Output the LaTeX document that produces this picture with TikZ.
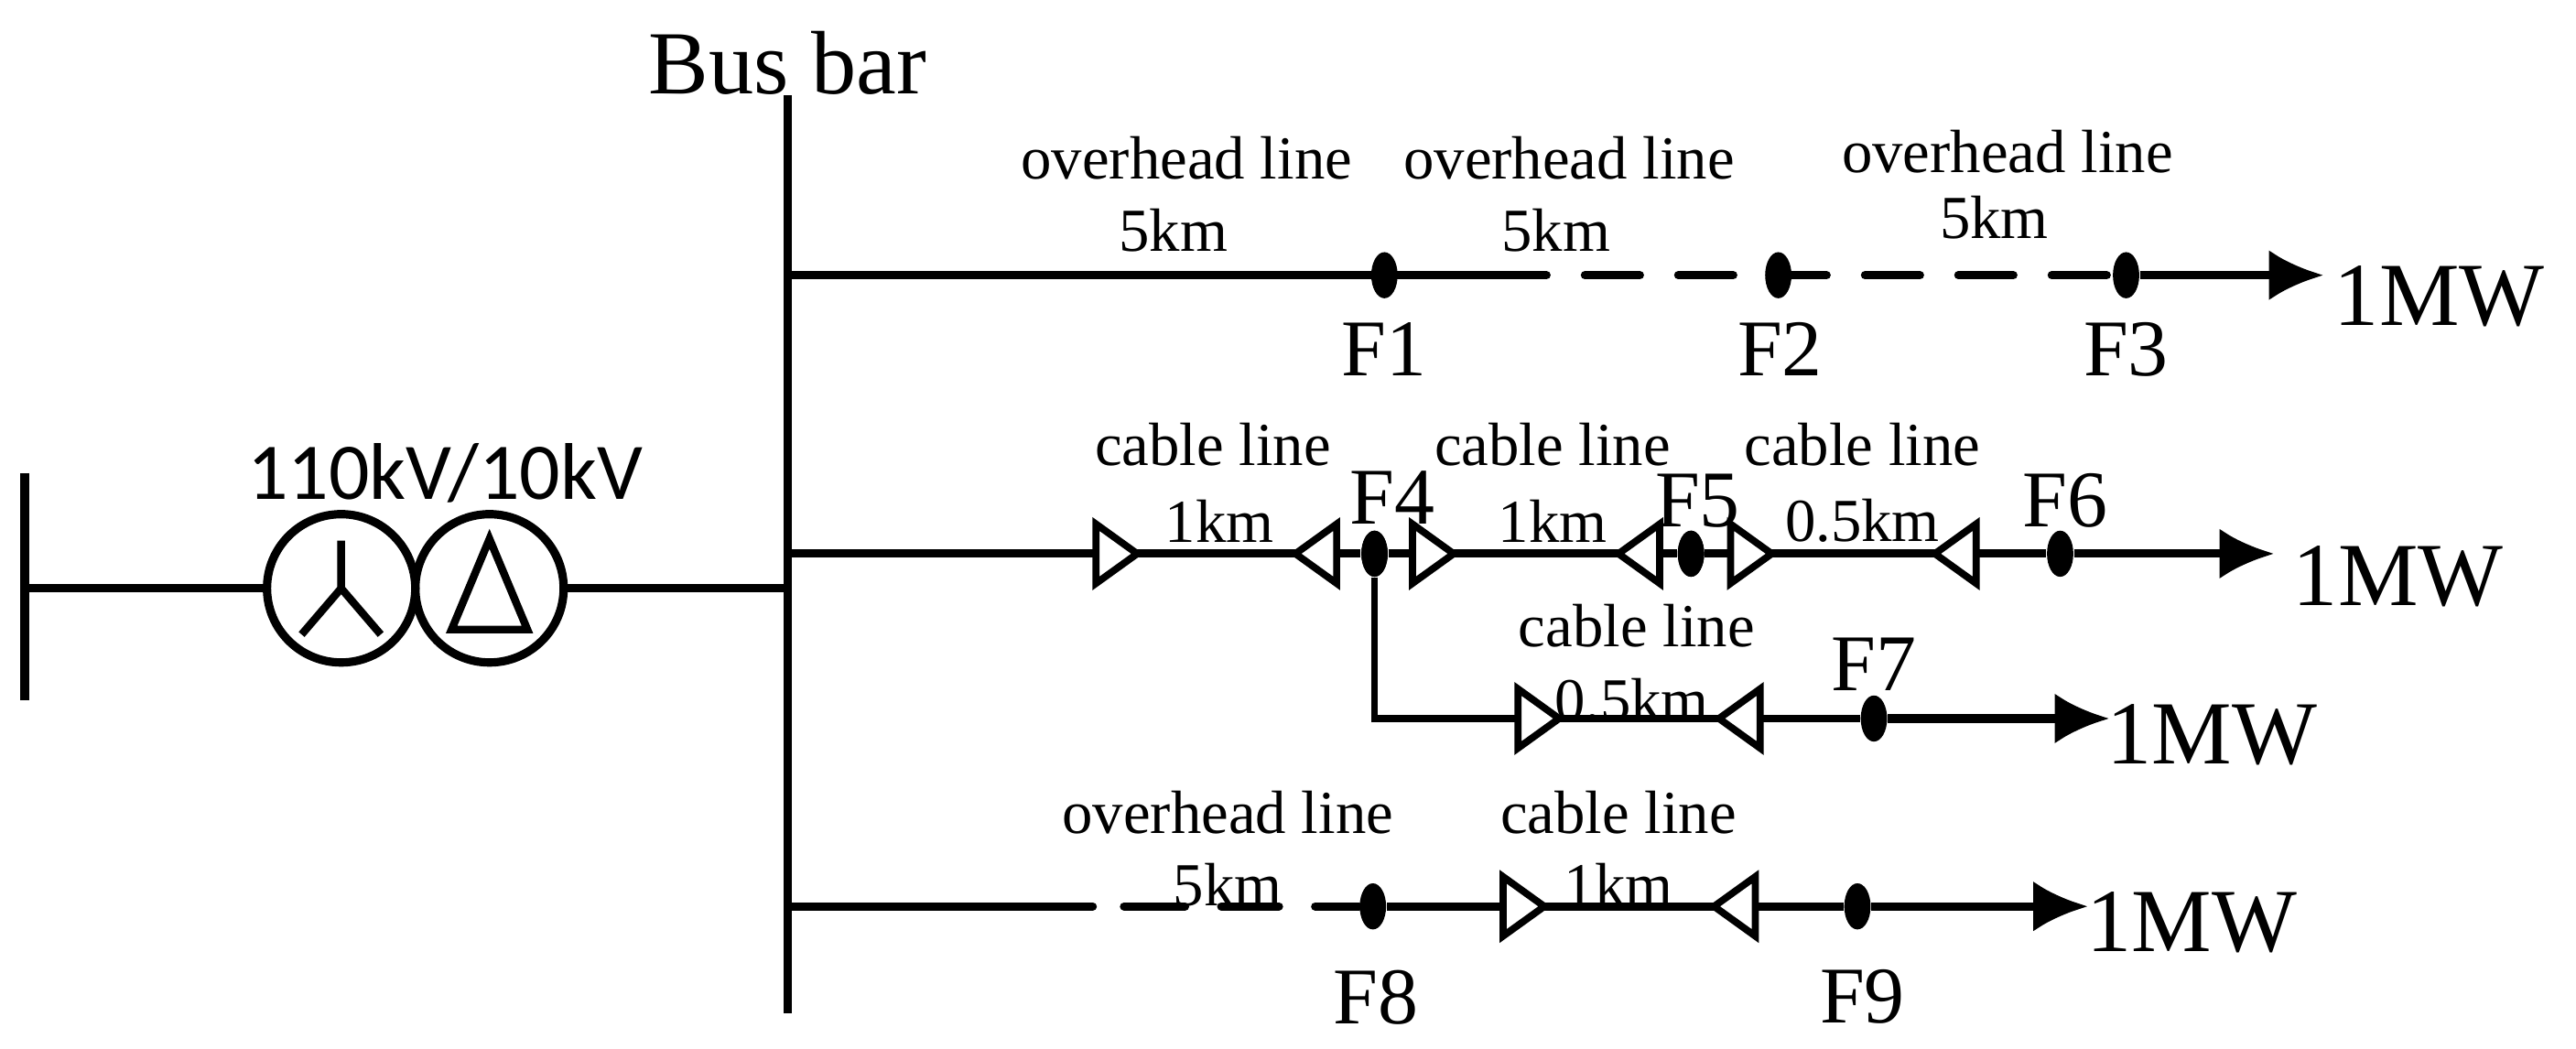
\documentclass[tikz,border=0pt]{standalone}
\usepackage{fontspec}
\setmainfont{Liberation Serif}
\newfontfamily\calib{Carlito}
\usetikzlibrary{shapes.geometric,arrows.meta}
\begin{document}
\begin{tikzpicture}[x=0.018cm,y=-0.018cm,
  ln/.style={line width=2.6pt},
  dsh/.style={line width=2.6pt,line cap=round},
  tri/.style={line width=2.2pt,fill=white,line join=miter},
  dot/.style={ellipse,fill=black,minimum width=16*0.018cm,minimum height=28*0.018cm,inner sep=0pt},
  big/.style={font=\fontsize{28}{30}\selectfont,inner sep=0pt},
  fl/.style={font=\fontsize{25}{27}\selectfont,inner sep=0pt},
  sm/.style={font=\fontsize{19}{21}\selectfont,inner sep=0pt},
  arr/.style={line width=2.6pt,-{Latex[length=0.6cm,width=0.55cm]}}]
\useasboundingbox (0,0) rectangle (1563,636);
\newcommand\rtri[2]{\draw[tri] (#1-25,#2-18) -- (#1,#2) -- (#1-25,#2+18) -- cycle;}
\newcommand\ltri[2]{\draw[tri] (#1+25,#2-18) -- (#1,#2) -- (#1+25,#2+18) -- cycle;}
% source bus and transformer
\draw[ln] (15,287) -- (15,425);
\coordinate (s) at (15,357);
\node[circle,draw,line width=2.6pt,minimum size=90*0.018cm,inner sep=0pt] (c1) at (207,357) {};
\node[circle,draw,line width=2.6pt,minimum size=90*0.018cm,inner sep=0pt] (c2) at (297,357) {};
\draw[ln] (s) -- (c1.west);
\draw[line width=2.4pt] (207,328) -- (207,357) -- (183,385) (207,357) -- (231,385);
\draw[line width=2.4pt,line join=miter] (297,327) -- (274,382) -- (320,382) -- cycle;
\node[font=\calib\fontsize{25}{27}\selectfont,inner sep=0pt] (tl) at (270,287) {110kV/10kV};
% bus bar
\coordinate (bt) at (478,58); \coordinate (bb) at (478,615);
\draw[ln] (bt) -- (bb);
\draw[ln] (c2.east) -- (478,357);
\node[big] (bus) at (478,38) {Bus bar};
% row 1
\coordinate (r1) at (478,167);
\node[dot] (F1) at (840,167) {};
\node[dot] (F2) at (1079,167) {};
\node[dot] (F3) at (1290,167) {};
\coordinate (r1e) at (1410,167);
\draw[ln] (r1) -- (905,167);
\draw[dsh,dash pattern=on 0.6cm off 0.42cm] (905,167) -- (F3);
\draw[arr] (F3) -- (r1e);
\node[sm] at (720,96) {overhead line}; \node[sm] at (712,140) {5km};
\node[sm] at (952,96) {overhead line}; \node[sm] at (944,140) {5km};
\node[sm] at (1218,92) {overhead line}; \node[sm] at (1210,132) {5km};
\node[fl] at (840,212) {F1}; \node[fl] at (1080,212) {F2}; \node[fl] at (1290,212) {F3};
\node[big] (m1) at (1480,180) {1MW};
% row 2
\coordinate (r2) at (478,336);
\node[dot] (F4) at (834,336) {};
\node[dot] (F5) at (1026,336) {};
\node[dot] (F6) at (1250,336) {};
\coordinate (r2e) at (1380,336);
\draw[ln] (r2) -- (F4) -- (F5) -- (F6);
\draw[arr] (F6) -- (r2e);
\rtri{690}{336} \ltri{786}{336} \rtri{882}{336} \ltri{982}{336} \rtri{1075}{336} \ltri{1174}{336}
\node[dot] at (834,336) {}; \node[dot] at (1026,336) {};
\node[sm] at (736,270) {cable line}; \node[sm] at (740,316) {1km};
\node[sm] at (942,270) {cable line}; \node[sm] at (942,316) {1km};
\node[sm] at (1130,270) {cable line}; \node[sm] at (1130,316) {0.5km};
\node[fl] at (845,302) {F4}; \node[fl] at (1030,304) {F5}; \node[fl] at (1253,304) {F6};
\node[big] (m2) at (1455,350) {1MW};
% row 3
\coordinate (k) at (834,436);
\node[dot] (F7) at (1137,436) {};
\coordinate (r3e) at (1280,436);
\draw[line width=2.2pt] (F4) -- (k) -- (F7);
\draw[arr] (F7) -- (r3e);
\rtri{946}{436} \ltri{1043}{436}
\node[sm] at (993,380) {cable line}; \node[sm] at (990,425) {0.5km};
\node[fl] at (1137,403) {F7};
\node[big] (m3) at (1342,446) {1MW};
% row 4
\coordinate (r4) at (478,550);
\node[dot] (F8) at (833,550) {};
\node[dot] (F9) at (1127,550) {};
\coordinate (r4e) at (1267,550);
\draw[dsh] (r4) -- (663,550) (682,550) -- (719,550) (741,550) -- (776,550) (798,550) -- (F8);
\draw[ln] (F8) -- (F9);
\draw[arr] (F9) -- (r4e);
\rtri{937}{550} \ltri{1040}{550}
\node[sm] at (745,493) {overhead line}; \node[sm] at (745,537) {5km};
\node[sm] at (982,493) {cable line}; \node[sm] at (982,537) {1km};
\node[fl] at (835,605) {F8}; \node[fl] at (1130,605) {F9};
\node[big] (m4) at (1330,560) {1MW};
\end{tikzpicture}
\end{document}
